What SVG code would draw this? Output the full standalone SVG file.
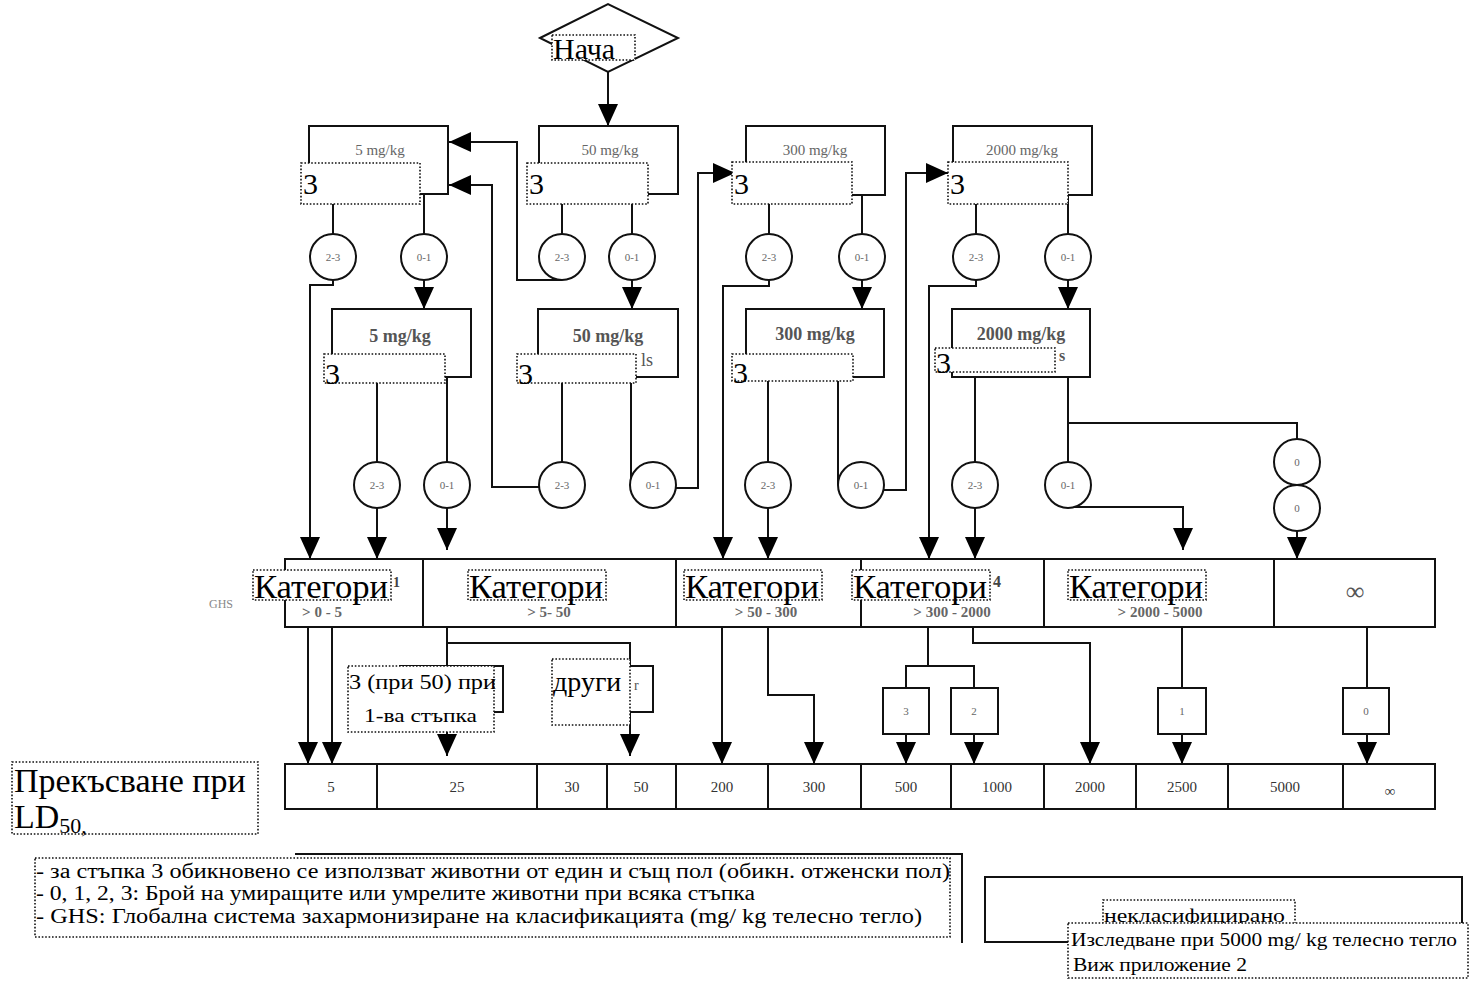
<svg xmlns="http://www.w3.org/2000/svg" width="1484" height="985" viewBox="0 0 1484 985">
<style>
  .bx{fill:#fff;stroke:#111;stroke-width:2}
  .dt{fill:#fff;stroke:#111;stroke-width:1.6;stroke-dasharray:1.6 1.8}
  .ln{fill:none;stroke:#111;stroke-width:2}
  .ci{fill:#fff;stroke:#111;stroke-width:2}
  text{font-family:"Liberation Serif","Times New Roman",serif}
  .big{font-size:30px;fill:#000}
  .cat{font-size:33px;fill:#000}
  .mg{font-size:15px;fill:#666;text-anchor:middle}
  .mgb{font-size:18px;fill:#555;font-weight:bold;text-anchor:middle}
  .rng{font-size:15px;fill:#666;font-weight:bold;text-anchor:middle}
  .cl{font-size:11px;fill:#666;text-anchor:middle}
  .num{font-size:15px;fill:#333;text-anchor:middle}
  .ghs{font-size:12px;fill:#888}
  .leg{font-size:20px;fill:#000}
</style>
<defs>
  <marker id="ah" viewBox="0 0 22 20" refX="22" refY="10" markerWidth="22" markerHeight="20" markerUnits="userSpaceOnUse" orient="auto">
    <path d="M0,0L22,10L0,20z" fill="#000"/>
  </marker>
</defs>
<rect width="1484" height="985" fill="#fff"/>

<!-- connectors -->
<g id="connectors" class="ln" marker-end="url(#ah)">
  <path d="M608,72V126"/>
  <!-- first dosing row -->
  <path d="M333,194V234" marker-end="none"/>
  <path d="M333,280V285H310V559"/>
  <path d="M424,194V234" marker-end="none"/>
  <path d="M424,280V309"/>
  <path d="M562,194V234" marker-end="none"/>
  <path d="M562,280H517V142H449"/>
  <path d="M632,194V234" marker-end="none"/>
  <path d="M632,280V309"/>
  <path d="M769,195V234" marker-end="none"/>
  <path d="M769,280V286H723V559"/>
  <path d="M862,195V234" marker-end="none"/>
  <path d="M862,280V309"/>
  <path d="M976,195V234" marker-end="none"/>
  <path d="M976,280V286H929V559"/>
  <path d="M1068,195V234" marker-end="none"/>
  <path d="M1068,280V309"/>
  <!-- second dosing row -->
  <path d="M377,377V462" marker-end="none"/>
  <path d="M377,508V559"/>
  <path d="M447,377V462" marker-end="none"/>
  <path d="M447,508V550"/>
  <path d="M562,377V462" marker-end="none"/>
  <path d="M539,487H492V185H449"/>
  <path d="M631,377V485" marker-end="none"/>
  <path d="M676,488H698V173H735"/>
  <path d="M768,377V462" marker-end="none"/>
  <path d="M768,508V559"/>
  <path d="M838,377V485" marker-end="none"/>
  <path d="M884,490H906V173H948"/>
  <path d="M975,377V462" marker-end="none"/>
  <path d="M975,508V559"/>
  <path d="M1068,377V462" marker-end="none"/>
  <path d="M1068,423H1297V439" marker-end="none"/>
  <path d="M1297,531V559"/>
  <path d="M1072,507H1183V550"/>
  <!-- GHS to cut-off values -->
  <path d="M308,627V764"/>
  <path d="M332,627V764"/>
  <path d="M447,627V756"/>
  <path d="M447,643H630V756"/>
  <path d="M722,627V764"/>
  <path d="M768,627V695H814V764"/>
  <path d="M928,627V666" marker-end="none"/>
  <path d="M906,688V666H974V688" marker-end="none"/>
  <path d="M906,734V764"/>
  <path d="M974,734V764"/>
  <path d="M973,627V643H1090V764"/>
  <path d="M1182,627V688" marker-end="none"/>
  <path d="M1182,734V764"/>
  <path d="M1367,627V688" marker-end="none"/>
  <path d="M1367,734V764"/>
</g>

<!-- start -->
<g id="start">
  <polygon class="bx" points="540,38 608,4 678,38 608,72"/>
  <rect class="dt" x="552" y="35" width="83" height="25"/>
  <text x="553" y="59" font-size="30">Нача</text>
</g>

<!-- first dosing row -->
<g id="dose5a">
  <rect class="bx" x="309" y="126" width="139" height="68"/>
  <text class="mg" x="380" y="155">5 mg/kg</text>
  <rect class="dt" x="301" y="163" width="119" height="41"/>
  <text class="big" x="303" y="194">3</text>
</g>
<g id="dose50a">
  <rect class="bx" x="539" y="126" width="139" height="68"/>
  <text class="mg" x="610" y="155">50 mg/kg</text>
  <rect class="dt" x="527" y="163" width="121" height="41"/>
  <text class="big" x="529" y="194">3</text>
</g>
<g id="dose300a">
  <rect class="bx" x="746" y="126" width="139" height="69"/>
  <text class="mg" x="815" y="155">300 mg/kg</text>
  <rect class="dt" x="732" y="162" width="120" height="42"/>
  <text class="big" x="734" y="194">3</text>
</g>
<g id="dose2000a">
  <rect class="bx" x="953" y="126" width="139" height="69"/>
  <text class="mg" x="1022" y="155">2000 mg/kg</text>
  <rect class="dt" x="948" y="162" width="120" height="42"/>
  <text class="big" x="950" y="194">3</text>
</g>

<!-- outcome circles -->
<g id="outcomes1">
  <circle class="ci" cx="333" cy="257" r="23"/><text class="cl" x="333" y="261">2-3</text>
  <circle class="ci" cx="424" cy="257" r="23"/><text class="cl" x="424" y="261">0-1</text>
  <circle class="ci" cx="562" cy="257" r="23"/><text class="cl" x="562" y="261">2-3</text>
  <circle class="ci" cx="632" cy="257" r="23"/><text class="cl" x="632" y="261">0-1</text>
  <circle class="ci" cx="769" cy="257" r="23"/><text class="cl" x="769" y="261">2-3</text>
  <circle class="ci" cx="862" cy="257" r="23"/><text class="cl" x="862" y="261">0-1</text>
  <circle class="ci" cx="976" cy="257" r="23"/><text class="cl" x="976" y="261">2-3</text>
  <circle class="ci" cx="1068" cy="257" r="23"/><text class="cl" x="1068" y="261">0-1</text>
</g>

<!-- second dosing row -->
<g id="dose5b">
  <rect class="bx" x="332" y="309" width="139" height="68"/>
  <text class="mgb" x="400" y="342">5 mg/kg</text>
  <rect class="dt" x="324" y="354" width="121" height="29"/>
  <text class="big" x="325" y="384">3</text>
</g>
<g id="dose50b">
  <rect class="bx" x="538" y="309" width="140" height="68"/>
  <text class="mgb" x="608" y="342">50 mg/kg</text>
  <text x="641" y="366" font-size="18" fill="#555">ls</text>
  <rect class="dt" x="517" y="354" width="119" height="29"/>
  <text class="big" x="518" y="384">3</text>
</g>
<g id="dose300b">
  <rect class="bx" x="746" y="309" width="138" height="68"/>
  <text class="mgb" x="815" y="340">300 mg/kg</text>
  <rect class="dt" x="732" y="354" width="121" height="27"/>
  <text class="big" x="733" y="383">3</text>
</g>
<g id="dose2000b">
  <rect class="bx" x="952" y="309" width="138" height="68"/>
  <text class="mgb" x="1021" y="340">2000 mg/kg</text>
  <text x="1059" y="361" font-size="16" font-weight="bold" fill="#555">s</text>
  <rect class="dt" x="935" y="348" width="120" height="24"/>
  <text class="big" x="936" y="373">3</text>
</g>

<g id="outcomes2">
  <circle class="ci" cx="377" cy="485" r="23"/><text class="cl" x="377" y="489">2-3</text>
  <circle class="ci" cx="447" cy="485" r="23"/><text class="cl" x="447" y="489">0-1</text>
  <circle class="ci" cx="562" cy="485" r="23"/><text class="cl" x="562" y="489">2-3</text>
  <circle class="ci" cx="653" cy="485" r="23"/><text class="cl" x="653" y="489">0-1</text>
  <circle class="ci" cx="768" cy="485" r="23"/><text class="cl" x="768" y="489">2-3</text>
  <circle class="ci" cx="861" cy="485" r="23"/><text class="cl" x="861" y="489">0-1</text>
  <circle class="ci" cx="975" cy="485" r="23"/><text class="cl" x="975" y="489">2-3</text>
  <circle class="ci" cx="1068" cy="485" r="23"/><text class="cl" x="1068" y="489">0-1</text>
  <circle class="ci" cx="1297" cy="462" r="23"/><text class="cl" x="1297" y="466">0</text>
  <circle class="ci" cx="1297" cy="508" r="23"/><text class="cl" x="1297" y="512">0</text>
</g>

<!-- GHS categories -->
<g id="ghs">
  <text class="ghs" x="209" y="608">GHS</text>
  <rect class="bx" x="285" y="559" width="138" height="68"/>
  <rect class="bx" x="423" y="559" width="253" height="68"/>
  <rect class="bx" x="676" y="559" width="185" height="68"/>
  <rect class="bx" x="861" y="559" width="183" height="68"/>
  <rect class="bx" x="1044" y="559" width="230" height="68"/>
  <rect class="bx" x="1274" y="559" width="161" height="68"/>
  <text class="rng" x="322" y="617">&gt; 0 - 5</text>
  <text class="rng" x="549" y="617">&gt; 5- 50</text>
  <text class="rng" x="766" y="617">&gt; 50 - 300</text>
  <text class="rng" x="952" y="617">&gt; 300 - 2000</text>
  <text class="rng" x="1160" y="617">&gt; 2000 - 5000</text>
  <text x="1355" y="600" font-size="26" fill="#555" text-anchor="middle">∞</text>
  <text x="393" y="587" font-size="14" font-weight="bold" fill="#444">1</text>
  <text x="993" y="587" font-size="16" font-weight="bold" fill="#444">4</text>
  <rect class="dt" x="253" y="570" width="138" height="30"/>
  <text class="cat" x="254" y="598" textLength="134" lengthAdjust="spacingAndGlyphs">Категори</text>
  <rect class="dt" x="468" y="570" width="138" height="30"/>
  <text class="cat" x="469" y="598" textLength="134" lengthAdjust="spacingAndGlyphs">Категори</text>
  <rect class="dt" x="684" y="570" width="138" height="30"/>
  <text class="cat" x="685" y="598" textLength="134" lengthAdjust="spacingAndGlyphs">Категори</text>
  <rect class="dt" x="852" y="570" width="138" height="30"/>
  <text class="cat" x="853" y="598" textLength="134" lengthAdjust="spacingAndGlyphs">Категори</text>
  <rect class="dt" x="1068" y="570" width="138" height="30"/>
  <text class="cat" x="1069" y="598" textLength="134" lengthAdjust="spacingAndGlyphs">Категори</text>
</g>

<!-- notes under category 2 -->
<g id="note-first-step">
  <rect class="bx" x="400" y="666" width="103" height="46"/>
  <rect class="dt" x="348" y="666" width="146" height="66"/>
  <text x="349" y="689" font-size="21" textLength="147" lengthAdjust="spacingAndGlyphs">3 (при 50) при</text>
  <text x="364" y="722" font-size="19" textLength="113" lengthAdjust="spacingAndGlyphs">1-ва стъпка</text>
</g>
<g id="note-other">
  <rect class="bx" x="590" y="666" width="63" height="46"/>
  <rect class="dt" x="552" y="659" width="78" height="66"/>
  <text x="634" y="690" font-size="14" fill="#555">r</text>
  <text x="553" y="691" font-size="28">други</text>
</g>

<!-- mortality counts -->
<g id="count3"><rect class="bx" x="883" y="688" width="46" height="46"/><text class="cl" x="906" y="715">3</text></g>
<g id="count2"><rect class="bx" x="951" y="688" width="47" height="46"/><text class="cl" x="974" y="715">2</text></g>
<g id="count1"><rect class="bx" x="1158" y="688" width="48" height="46"/><text class="cl" x="1182" y="715">1</text></g>
<g id="count0"><rect class="bx" x="1343" y="688" width="46" height="46"/><text class="cl" x="1366" y="715">0</text></g>

<!-- LD50 cut-off values -->
<g id="cutoffs">
  <rect class="bx" x="285" y="764" width="92" height="45"/>
  <rect class="bx" x="377" y="764" width="160" height="45"/>
  <rect class="bx" x="537" y="764" width="70" height="45"/>
  <rect class="bx" x="607" y="764" width="69" height="45"/>
  <rect class="bx" x="676" y="764" width="92" height="45"/>
  <rect class="bx" x="768" y="764" width="93" height="45"/>
  <rect class="bx" x="861" y="764" width="90" height="45"/>
  <rect class="bx" x="951" y="764" width="93" height="45"/>
  <rect class="bx" x="1044" y="764" width="92" height="45"/>
  <rect class="bx" x="1136" y="764" width="92" height="45"/>
  <rect class="bx" x="1228" y="764" width="115" height="45"/>
  <rect class="bx" x="1343" y="764" width="92" height="45"/>
  <text class="num" x="331" y="792">5</text>
  <text class="num" x="457" y="792">25</text>
  <text class="num" x="572" y="792">30</text>
  <text class="num" x="641" y="792">50</text>
  <text class="num" x="722" y="792">200</text>
  <text class="num" x="814" y="792">300</text>
  <text class="num" x="906" y="792">500</text>
  <text class="num" x="997" y="792">1000</text>
  <text class="num" x="1090" y="792">2000</text>
  <text class="num" x="1182" y="792">2500</text>
  <text class="num" x="1285" y="792">5000</text>
  <text class="num" x="1390" y="796">∞</text>
</g>

<g id="cutoff-label">
  <rect class="dt" x="12" y="762" width="246" height="72"/>
  <text x="14" y="792" font-size="34">Прекъсване при</text>
  <text x="14" y="828" font-size="34">LD<tspan font-size="22" dy="5">50,</tspan></text>
</g>

<!-- legends -->
<g id="legend-notes">
  <path class="ln" d="M295,854H962V943"/>
  <rect class="dt" x="35" y="858" width="915" height="79"/>
  <text class="leg" x="36" y="878" textLength="914" lengthAdjust="spacingAndGlyphs">- за стъпка 3 обикновено се използват животни от един и същ пол (обикн. отженски пол)</text>
  <text class="leg" x="36" y="900" textLength="719" lengthAdjust="spacingAndGlyphs">- 0, 1, 2, 3: Брой на умиращите или умрелите животни при всяка стъпка</text>
  <text class="leg" x="36" y="923" textLength="886" lengthAdjust="spacingAndGlyphs">- GHS: Глобална система захармонизиране на класификацията (mg/ kg телесно тегло)</text>
</g>
<g id="legend-unclassified">
  <rect class="bx" x="985" y="877" width="477" height="65"/>
  <rect class="dt" x="1103" y="900" width="192" height="24"/>
  <text x="1104" y="922" font-size="19" textLength="181" lengthAdjust="spacingAndGlyphs">некласифицирано</text>
  <rect class="dt" x="1068" y="923" width="400" height="55"/>
  <text x="1071" y="946" font-size="18" textLength="386" lengthAdjust="spacingAndGlyphs">Изследване при 5000 mg/ kg телесно тегло</text>
  <text x="1073" y="971" font-size="18" textLength="174" lengthAdjust="spacingAndGlyphs">Виж приложение 2</text>
</g>
</svg>
